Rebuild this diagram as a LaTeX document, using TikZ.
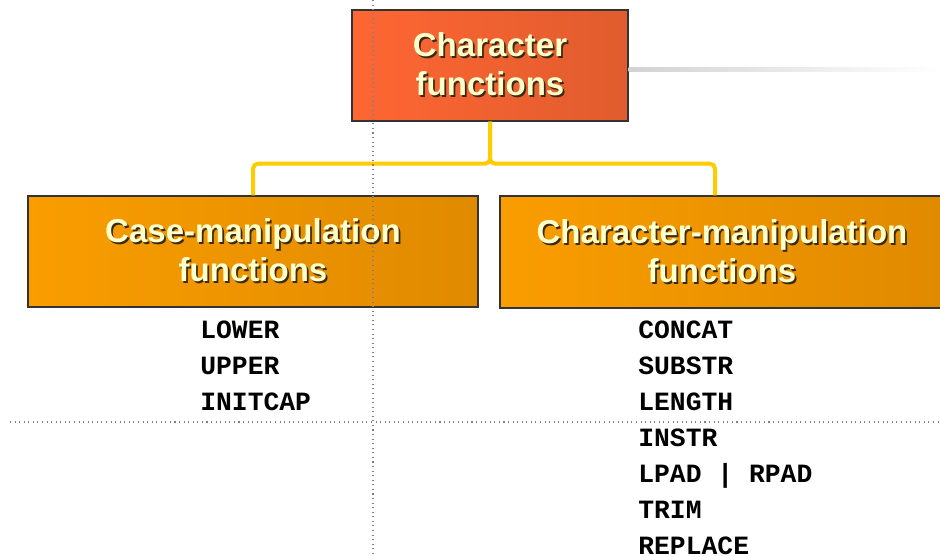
\documentclass[tikz,border=0pt]{standalone}
\usepackage{fontspec}
\setsansfont{Liberation Sans}
\setmonofont{Liberation Mono}
\usepackage{tikz}
\usetikzlibrary{positioning}
\definecolor{topfillA}{HTML}{FF6633}
\definecolor{topfillB}{HTML}{E05C2E}
\definecolor{subfillA}{HTML}{F99D00}
\definecolor{subfillB}{HTML}{E08A00}
\definecolor{linkyellow}{HTML}{FFCC00}
\definecolor{boxline}{HTML}{333333}
\definecolor{cream}{HTML}{FFFFCC}
\definecolor{shadowtext}{HTML}{3A2A10}
\newcommand{\shd}[1]{\makebox[0pt][l]{\raisebox{-1pt}{\hspace{1pt}\textcolor{shadowtext}{#1}}}#1}
\tikzset{
  headbox/.style={draw=boxline, line width=0.8pt, inner sep=0pt, align=center,
    text=cream, font=\sffamily\bfseries\fontsize{18.8}{22.2}\selectfont},
  link/.style={draw=linkyellow, line width=0.08cm, rounded corners=0.1cm},
  guide/.style={gray, dotted, line width=0.6pt},
  fn/.style={anchor=west, inner sep=0pt, text height=8.6pt, text depth=0pt,
    font=\ttfamily\bfseries\fontsize{15}{18}\selectfont}
}

\begin{document}
\begin{tikzpicture}
  \useasboundingbox (0, 0) rectangle (18.8, -11.12);
  \def\dy{0.72}
  \node [headbox, left color=topfillA, right color=topfillB,
         minimum width=5.52cm, minimum height=2.22cm] (char) at (9.8, -1.31)
        {\shd{Character}\\\shd{functions}};
  % grey rule to the right of the title box
  \shade [left color=gray!35, right color=white]
        ([yshift=-0.5mm]char.east) rectangle (18.8, -1.44);
  \node [headbox, left color=subfillA, right color=subfillB,
         minimum width=9cm, minimum height=2.22cm] (case) at (5.06, -5.03)
        {\shd{Case-manipulation}\\\shd{functions}};
  \node [headbox, left color=subfillA, right color=subfillB,
         minimum width=8.88cm, minimum height=2.24cm] (charman) at (14.44, -5.04)
        {\shd{Character-manipulation}\\\shd{functions}};
  \draw [link] (char.south) -- ++(0, -0.84) -| (case.north);
  \draw [link] (char.south) -- ++(0, -0.84) -| ([xshift=-1.4mm]charman.north);
  % function names
  \foreach \fname [count=\i] in {LOWER, UPPER, INITCAP}
    \node [fn] (case\i) at (4.0, -6.62-\dy*\i+\dy) {\fname};
  \foreach \fname [count=\i] in {CONCAT, SUBSTR, LENGTH, INSTR, LPAD | RPAD, TRIM, REPLACE}
    \node [fn] (charman\i) at (12.76, -6.62-\dy*\i+\dy) {\fname};
  % guides
  \draw [guide] (7.46, 0) -- (7.46, -11.12);
  \draw [guide] (0.2, -8.44) -- (18.8, -8.44);
\end{tikzpicture}
\end{document}
